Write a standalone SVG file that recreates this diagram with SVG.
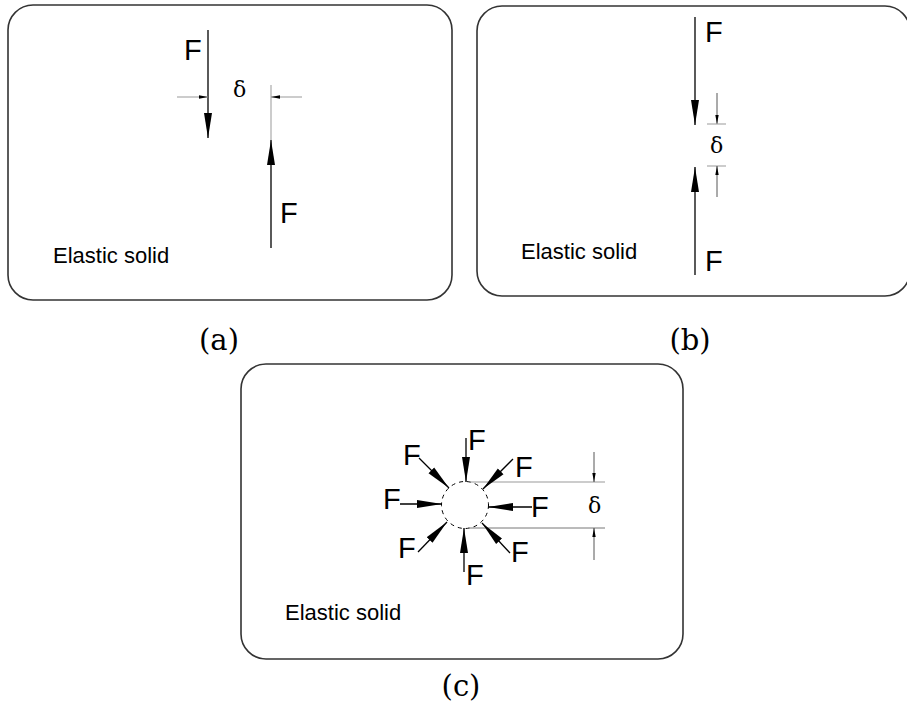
<svg xmlns="http://www.w3.org/2000/svg" width="907" height="711" viewBox="0 0 907 711">
<defs>
<style>
.box{fill:#fff;stroke:#333;stroke-width:1.6}
.force{stroke:#000;stroke-width:1.3;fill:none}
.dim{stroke:#999;stroke-width:1;fill:none}
.dimk{stroke:#444;stroke-width:0.9;fill:none}
.F{font-family:"Liberation Sans",Arial,sans-serif;font-size:29px;fill:#000}
.es{font-family:"Liberation Sans",Arial,sans-serif;font-size:22px;fill:#000}
.d{font-family:"DejaVu Serif","Liberation Serif",serif;font-size:22px;fill:#000}
.cap{font-family:"DejaVu Serif","Liberation Serif",serif;font-size:29px;fill:#000;text-anchor:middle}
</style>
<marker id="big" markerUnits="userSpaceOnUse" markerWidth="26" markerHeight="10" refX="25" refY="4.5" orient="auto"><path d="M0,0.5 L25,4.5 L0,8.5 z" fill="#000"/></marker>
<marker id="small" markerUnits="userSpaceOnUse" markerWidth="10" markerHeight="6" refX="9" refY="2.5" orient="auto"><path d="M0,0.8 L9,2.5 L0,4.2 z" fill="#000"/></marker>
</defs>
<rect width="907" height="711" fill="#fff"/>
<g id="panel-a">
<rect class="box" x="8" y="5" width="444" height="295" rx="25" ry="25"/>
<text class="es" x="53" y="263">Elastic solid</text>
<line class="force" x1="208" y1="30" x2="208" y2="138" marker-end="url(#big)"/>
<text class="F" x="184" y="60">F</text>
<line class="dim" x1="271" y1="85" x2="271" y2="140"/>
<line class="force" x1="271" y1="248" x2="271" y2="140" marker-end="url(#big)"/>
<text class="F" x="280" y="223">F</text>
<line class="dim" x1="177" y1="97" x2="208" y2="97" marker-end="url(#small)"/>
<line class="dim" x1="302" y1="97" x2="271" y2="97" marker-end="url(#small)"/>
<text class="d" x="233" y="97">δ</text>
</g>
<g id="panel-b">
<rect class="box" x="477" y="6" width="433" height="290" rx="25" ry="25"/>
<text class="es" x="521" y="259">Elastic solid</text>
<line class="force" x1="695" y1="17" x2="695" y2="125" marker-end="url(#big)"/>
<text class="F" x="705" y="42">F</text>
<line class="force" x1="695" y1="275" x2="695" y2="167" marker-end="url(#big)"/>
<text class="F" x="705" y="271">F</text>
<line class="dimk" x1="717" y1="93" x2="717" y2="124" marker-end="url(#small)"/>
<line class="dim" x1="707" y1="124" x2="726" y2="124"/>
<text class="d" x="710" y="153">δ</text>
<line class="dim" x1="707" y1="166" x2="726" y2="166"/>
<line class="dimk" x1="717" y1="197" x2="717" y2="166" marker-end="url(#small)"/>
</g>
<g id="panel-c">
<rect class="box" x="241" y="364" width="442" height="295" rx="25" ry="25"/>
<text class="es" x="285" y="620">Elastic solid</text>
<circle cx="465" cy="505" r="23.5" fill="none" stroke="#000" stroke-width="1" stroke-dasharray="4 4"/>
<line class="dim" x1="470" y1="482" x2="605" y2="482"/>
<line class="dim" x1="468" y1="528" x2="605" y2="528" style="stroke:#777"/>
<line class="dimk" x1="594" y1="452" x2="594" y2="482" marker-end="url(#small)"/>
<line class="dimk" x1="594" y1="560" x2="594" y2="528" marker-end="url(#small)"/>
<text class="d" x="588" y="513">δ</text>
<line class="force" x1="466" y1="438" x2="466" y2="482" marker-end="url(#big)"/>
<text class="F" x="468" y="450">F</text>
<line class="force" x1="419" y1="458" x2="449" y2="488" marker-end="url(#big)"/>
<text class="F" x="403" y="465">F</text>
<line class="force" x1="513" y1="459" x2="483" y2="489" marker-end="url(#big)"/>
<text class="F" x="515" y="477">F</text>
<line class="force" x1="400" y1="504" x2="442" y2="504" marker-end="url(#big)"/>
<text class="F" x="383" y="509">F</text>
<line class="force" x1="532" y1="507" x2="488" y2="507" marker-end="url(#big)"/>
<text class="F" x="531" y="517">F</text>
<line class="force" x1="418" y1="552" x2="447" y2="522" marker-end="url(#big)"/>
<text class="F" x="398" y="558">F</text>
<line class="force" x1="464" y1="572" x2="464" y2="528" marker-end="url(#big)"/>
<text class="F" x="466" y="585">F</text>
<line class="force" x1="510" y1="553" x2="482" y2="523" marker-end="url(#big)"/>
<text class="F" x="511" y="562">F</text>
</g>
<g id="captions">
<text class="cap" x="219" y="350">(a)</text>
<text class="cap" x="690" y="350">(b)</text>
<text class="cap" x="461" y="696">(c)</text>
</g>
<g id="connectors"/>
</svg>
